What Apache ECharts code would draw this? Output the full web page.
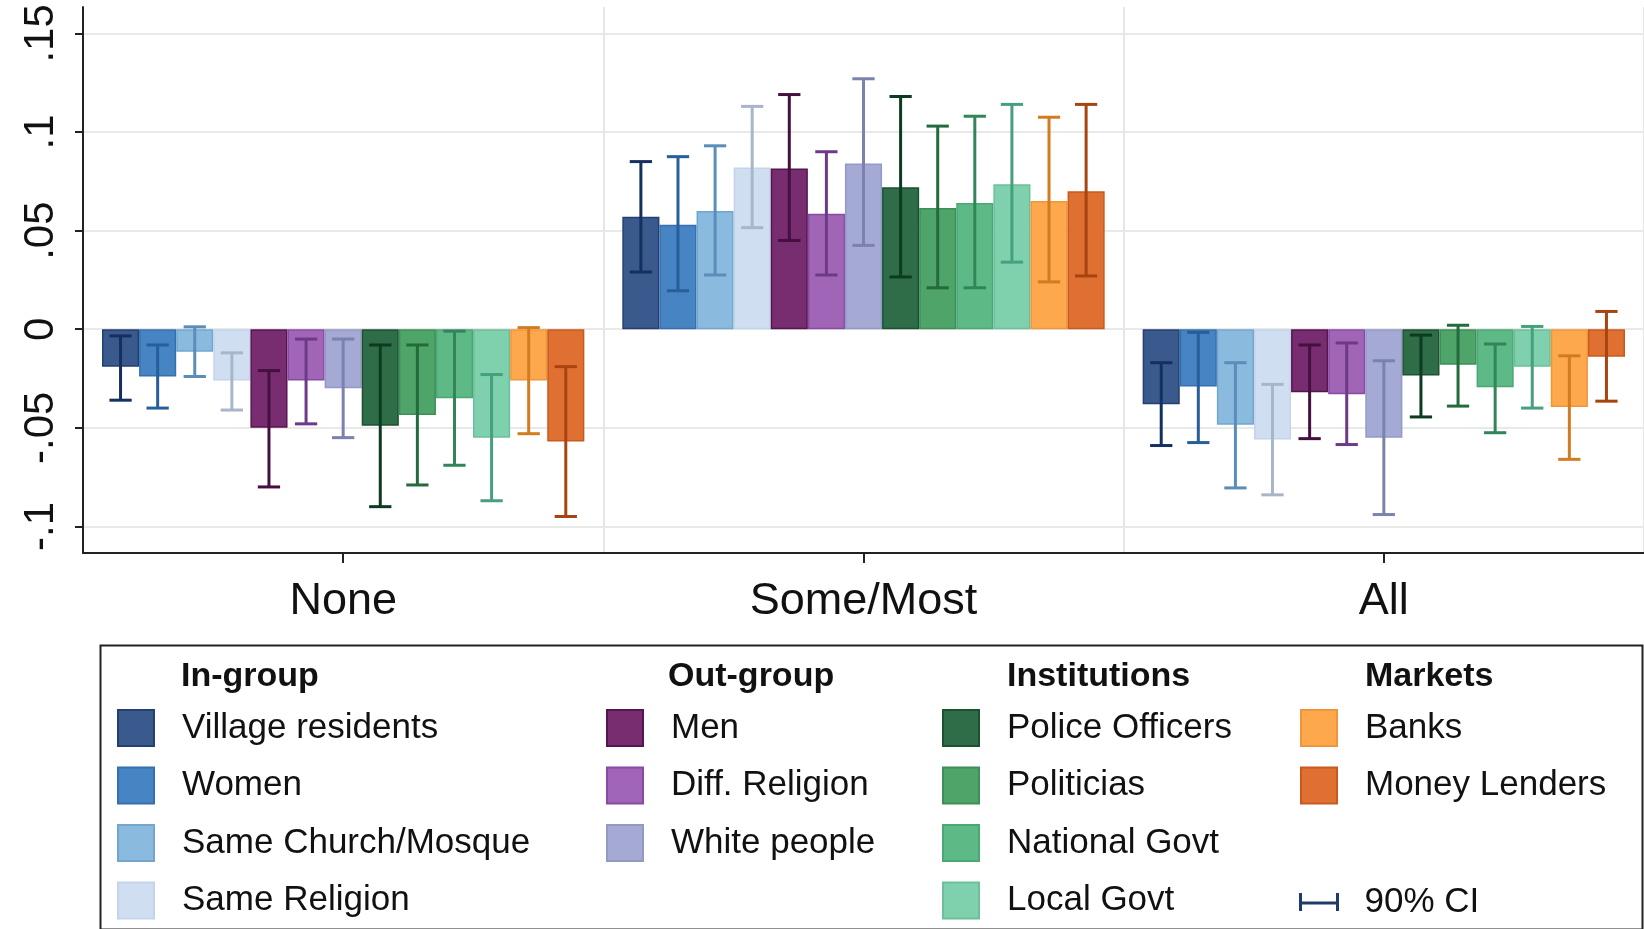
<!DOCTYPE html>
<html>
<head>
<meta charset="utf-8">
<title>Trust by group</title>
<script src="https://cdn.jsdelivr.net/npm/echarts@6/dist/echarts.min.js"></script>
<style>
  html, body { margin: 0; padding: 0; background: #fff; }
  #chart { width: 1644px; height: 929px; }
</style>
</head>
<body>
<div id="chart"></div>
<script>
// Response categories on the x axis
const categories = ['None', 'Some/Most', 'All'];

// Trust targets, one bar series each (in legend order)
const seriesNames = [
  'Village residents', 'Women', 'Same Church/Mosque', 'Same Religion',
  'Men', 'Diff. Religion', 'White people',
  'Police Officers', 'Politicias', 'National Govt', 'Local Govt',
  'Banks', 'Money Lenders'
];

// Point estimates and 90% confidence bounds, per category
const noneEst = [-0.019, -0.024, -0.0115, -0.026, -0.050, -0.026, -0.030, -0.049, -0.0435, -0.035, -0.055, -0.026, -0.057];
const noneHi  = [-0.0034, -0.008, 0.0012, -0.012, -0.021, -0.005, -0.005, -0.008, -0.008, -0.001, -0.023, 0.0008, -0.019];
const noneLo  = [-0.036, -0.040, -0.024, -0.041, -0.080, -0.048, -0.055, -0.090, -0.079, -0.069, -0.087, -0.053, -0.095];

const someEst = [0.057, 0.053, 0.060, 0.082, 0.0815, 0.0585, 0.084, 0.072, 0.0615, 0.064, 0.0735, 0.065, 0.070];
const someHi  = [0.085, 0.0875, 0.093, 0.113, 0.119, 0.090, 0.127, 0.118, 0.103, 0.108, 0.114, 0.1075, 0.114];
const someLo  = [0.029, 0.0195, 0.0275, 0.0515, 0.045, 0.0275, 0.0425, 0.0265, 0.021, 0.021, 0.034, 0.024, 0.027];

const allEst  = [-0.038, -0.029, -0.0485, -0.056, -0.032, -0.033, -0.055, -0.0235, -0.018, -0.0295, -0.019, -0.0395, -0.014];
const allHi   = [-0.017, -0.0016, -0.017, -0.028, -0.008, -0.007, -0.016, -0.003, 0.002, -0.0075, 0.0014, -0.0135, 0.009];
const allLo   = [-0.059, -0.0575, -0.0805, -0.084, -0.0555, -0.0585, -0.094, -0.0445, -0.039, -0.0525, -0.040, -0.066, -0.0365];

// Y axis ticks and their labels
const yTicks = [-0.1, -0.05, 0, 0.05, 0.1, 0.15];
const yTickLabels = ['-.1', '-.05', '0', '.05', '.1', '.15'];

// Legend groups
const groupTitles = ['In-group', 'Out-group', 'Institutions', 'Markets'];
const groupMembers = [
  ['Village residents', 'Women', 'Same Church/Mosque', 'Same Religion'],
  ['Men', 'Diff. Religion', 'White people'],
  ['Police Officers', 'Politicias', 'National Govt', 'Local Govt'],
  ['Banks', 'Money Lenders']
];
const ciName = '90% CI';

// Styling
const fills   = ['#3a5a8e', '#4684c3', '#8bbadf', '#cfdef0', '#772d6f', '#a065b6', '#a4aad3', '#2f6d48', '#4ea469', '#5dba87', '#7fd0ad', '#fda84c', '#e07031'];
const borders = ['#243f70', '#3470ae', '#73a6cf', '#c4d5ea', '#55164f', '#8a4aa3', '#9399c6', '#1c5232', '#3c8f56', '#4aa874', '#6dbf9c', '#f0963a', '#c85a1e'];
const ciColors = ['#13305e', '#265f9a', '#5b8dba', '#a8b6ca', '#45103f', '#6e3a88', '#7b82ad', '#0c3b1f', '#236b3d', '#318559', '#46a07d', '#d27c22', '#a8440f'];

const CAT_GAP = 0.073;
const FONT = '"Liberation Sans", Arial, sans-serif';

const estByCat = [noneEst, someEst, allEst];
const loByCat = [noneLo, someLo, allLo];
const hiByCat = [noneHi, someHi, allHi];
const N = seriesNames.length;

const barSeries = seriesNames.map((name, k) => ({
  name: name,
  type: 'bar',
  barGap: '0%',
  barCategoryGap: (CAT_GAP * 100) + '%',
  data: estByCat.map(arr => arr[k]),
  itemStyle: { color: fills[k], borderColor: borders[k], borderWidth: 1.5 },
  emphasis: { disabled: true },
  z: 2
}));

const ciData = [];
for (let c = 0; c < categories.length; c++) {
  for (let k = 0; k < N; k++) {
    ciData.push([c, loByCat[c][k], hiByCat[c][k], k]);
  }
}

const ciSeries = {
  name: ciName,
  type: 'custom',
  itemStyle: { color: '#1f3b6b' },
  encode: { x: 0, y: [1, 2] },
  data: ciData,
  z: 5,
  renderItem: function (params, api) {
    const cat = api.value(0), lo = api.value(1), hi = api.value(2), k = api.value(3);
    const center = api.coord([cat, 0])[0];
    const band = api.size([1, 0])[0];
    const inner = band * (1 - CAT_GAP);
    const bw = inner / N;
    const x = center - inner / 2 + (k + 0.5) * bw;
    const yHi = api.coord([cat, hi])[1];
    const yLo = api.coord([cat, lo])[1];
    const half = bw * 0.3;
    const style = { stroke: ciColors[k], lineWidth: 3, fill: null };
    return {
      type: 'group',
      children: [
        { type: 'line', shape: { x1: x, y1: yHi, x2: x, y2: yLo }, style: style },
        { type: 'line', shape: { x1: x - half, y1: yHi, x2: x + half, y2: yHi }, style: style },
        { type: 'line', shape: { x1: x - half, y1: yLo, x2: x + half, y2: yLo }, style: style }
      ]
    };
  }
};

// Legend columns
const colIconLeft = [117, 606, 942, 1300];
const colTextLeft = [181, 668, 1007, 1365];
const legendTop = 709;
const rowPitch = 55.5;

const legendBase = {
  orient: 'vertical',
  icon: 'rect',
  itemWidth: 36,
  itemHeight: 36,
  itemGap: 19.5,
  padding: 0,
  selectedMode: false,
  textStyle: { fontFamily: FONT, fontSize: 35, color: '#111', padding: [2, 0, 0, 23] }
};

const legends = groupMembers.map((members, i) => Object.assign({}, legendBase, {
  left: colIconLeft[i],
  top: legendTop,
  data: members
}));
legends.push(Object.assign({}, legendBase, {
  left: 1299,
  top: legendTop + rowPitch * 3 + 9,
  itemWidth: 41,
  itemHeight: 18,
  textStyle: { fontFamily: FONT, fontSize: 35, color: '#111', padding: [2, 0, 0, 20] },
  data: [{ name: ciName, icon: 'path://M0,0h3v8.5h34v-8.5h3v18h-3v-6.5h-34v6.5h-3z' }]
}));

const titles = groupTitles.map((t, i) => ({
  text: t,
  left: colTextLeft[i],
  top: 660,
  padding: 0,
  textStyle: { fontFamily: FONT, fontSize: 34, fontWeight: 'bold', color: '#111' }
}));

const chart = echarts.init(document.getElementById('chart'), null, { renderer: 'canvas' });

chart.setOption({
  backgroundColor: '#ffffff',
  animation: false,
  title: titles,
  legend: legends,
  grid: { left: 83, right: -3, top: 7, bottom: 376, containLabel: false },
  xAxis: {
    type: 'category',
    data: categories,
    boundaryGap: true,
    axisLine: { onZero: false, lineStyle: { color: '#222', width: 2 } },
    axisTick: { show: true, alignWithLabel: true, length: 10, lineStyle: { color: '#222', width: 2 } },
    axisLabel: { fontFamily: FONT, fontSize: 45, color: '#111', margin: 26 },
    splitLine: { show: true, lineStyle: { color: '#e6e6e6', width: 2 } }
  },
  yAxis: {
    type: 'value',
    min: -0.1135,
    max: 0.1634,
    axisLine: { show: true, lineStyle: { color: '#222', width: 2 } },
    axisTick: { show: true, length: 8, customValues: yTicks, lineStyle: { color: '#222', width: 2 } },
    axisLabel: {
      customValues: yTicks,
      rotate: 90,
      margin: 21,
      fontFamily: FONT,
      fontSize: 42,
      color: '#111',
      formatter: function (v) {
        let best = 0;
        for (let i = 1; i < yTicks.length; i++) {
          if (Math.abs(yTicks[i] - v) < Math.abs(yTicks[best] - v)) best = i;
        }
        return yTickLabels[best];
      }
    },
    splitLine: { show: true, lineStyle: { color: '#e9e9e9', width: 2 } }
  },
  graphic: [{
    type: 'rect',
    left: 98,
    top: 643,
    shape: { width: 1542, height: 284 },
    style: { fill: null, stroke: '#222', lineWidth: 2 },
    silent: true
  }],
  series: barSeries.concat([ciSeries])
});
</script>
</body>
</html>
